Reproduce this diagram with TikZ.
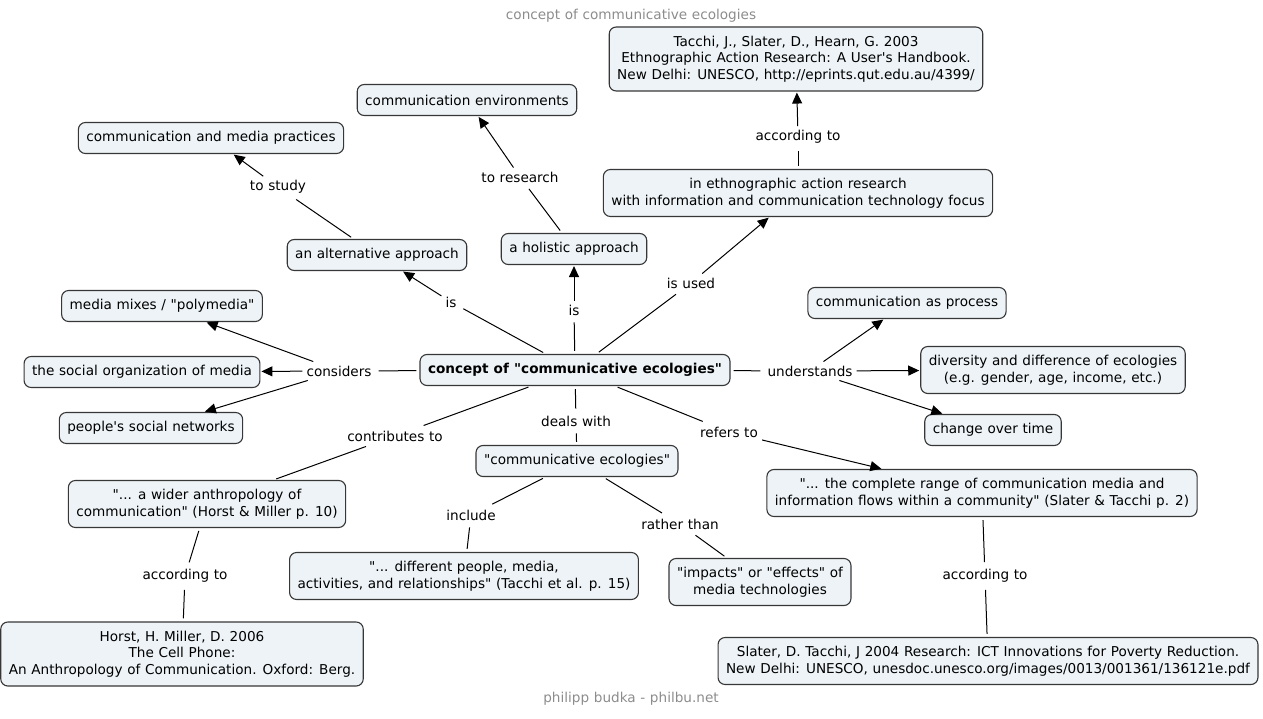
\documentclass[tikz,border=0pt]{standalone}
\usepackage{fontspec}
\setmainfont{DejaVu Sans}[Ligatures=TeXOff, WordSpace=1.08]
\usetikzlibrary{arrows.meta}
\definecolor{boxfill}{RGB}{237,243,246}
\definecolor{boxline}{RGB}{55,55,55}
\definecolor{titlegrey}{RGB}{140,140,140}
\newcommand\fs{\fontsize{13.6}{16.5}\selectfont}
\tikzset{
  cbox/.style={draw=boxline, fill=boxfill, rounded corners=7pt, line width=1.1pt,
    inner xsep=8pt, inner ysep=4pt, align=center, font=\fs, minimum height=31pt},
  two/.style={minimum height=47pt},
  three/.style={minimum height=64pt},
  lbl/.style={inner sep=4pt, font=\fs},
  conn/.style={line width=1pt, black, shorten <=3pt, shorten >=3pt},
  arr/.style={line width=1pt, black, shorten <=0pt, shorten >=1pt, -{Triangle[length=11pt,width=10pt]}},
}
\begin{document}
\begin{tikzpicture}[x=1pt,y=-1pt]
\useasboundingbox (0,0) rectangle (1263,719);
\node[font=\fs, text=titlegrey] (title) at (631,16) {concept of communicative ecologies};
\node[font=\fs, text=titlegrey] (footer) at (631,699) {philipp budka - philbu.net};

% boxes
\node[cbox, three] (tacchi) at (796,59) {Tacchi, J., Slater, D., Hearn, G. 2003\\Ethnographic Action Research: A User's Handbook.\\New Delhi: UNESCO, http://eprints.qut.edu.au/4399/};
\node[cbox] (env) at (467,100) {communication environments};
\node[cbox] (prac) at (211,138) {communication and media practices};
\node[cbox, two] (ethno) at (798,193) {in ethnographic action research\\with information and communication technology focus};
\node[cbox] (alt) at (377,255) {an alternative approach};
\node[cbox] (hol) at (574,249) {a holistic approach};
\node[cbox] (proc) at (907,303) {communication as process};
\node[cbox] (mix) at (162,306) {media mixes / "polymedia"};
\node[cbox, font=\fs\bfseries] (cen) at (575,370) {concept of "communicative ecologies"};
\node[cbox] (org) at (142,372) {the social organization of media};
\node[cbox, two] (div) at (1053,370) {diversity and difference of ecologies\\(e.g. gender, age, income, etc.)};
\node[cbox] (net) at (151,428) {people's social networks};
\node[cbox] (chg) at (993,430) {change over time};
\node[cbox] (ce) at (577,461) {"communicative ecologies"};
\node[cbox, two] (rng) at (982,493) {"... the complete range of communication media and\\information flows within a community" (Slater \& Tacchi p. 2)};
\node[cbox, two] (wid) at (207,504) {"... a wider anthropology of\\communication" (Horst \& Miller p. 10)};
\node[cbox, two] (dif) at (464,576) {"... different people, media,\\activities, and relationships" (Tacchi et al. p. 15)};
\node[cbox, two] (imp) at (760,582) {"impacts" or "effects" of\\media technologies};
\node[cbox, three] (horst) at (182,654) {Horst, H. Miller, D. 2006\\The Cell Phone:\\An Anthropology of Communication. Oxford: Berg.};
\node[cbox, two] (slat) at (988,661) {Slater, D. Tacchi, J 2004 Research: ICT Innovations for Poverty Reduction.\\New Delhi: UNESCO, unesdoc.unesco.org/images/0013/001361/136121e.pdf};

% labels
\node[lbl] (acc1) at (798,137) {according to};
\node[lbl] (study) at (278,187) {to study};
\node[lbl] (res) at (520,177) {to research};
\node[lbl] (used) at (691,283) {is used};
\node[lbl] (is1) at (451,302) {is};
\node[lbl] (is2) at (574,310) {is};
\node[lbl] (cons) at (339,371) {considers};
\node[lbl] (und) at (810,371) {understands};
\node[lbl] (contr) at (395,436) {contributes to};
\node[lbl] (deal) at (576,421) {deals with};
\node[lbl] (ref) at (729,432) {refers to};
\node[lbl] (incl) at (471,515) {include};
\node[lbl] (rath) at (680,524) {rather than};
\node[lbl] (acc2) at (185,576) {according to};
\node[lbl] (acc3) at (985,576) {according to};

% connectors
\draw[conn] (ethno) -- (acc1);
\draw[arr] (acc1) -- (tacchi);
\draw[conn] (alt) -- (study);
\draw[arr] (study) -- (prac);
\draw[conn] (hol) -- (res);
\draw[arr] (res) -- (env);
\draw[conn] (cen) -- (used);
\draw[arr] (used) -- (ethno);
\draw[conn] (cen) -- (is1);
\draw[arr] (is1) -- (alt);
\draw[conn] (cen) -- (is2);
\draw[arr] (is2) -- (hol);
\draw[conn] (cen) -- (cons);
\draw[arr] (cons) -- (mix);
\draw[arr] (cons) -- (org);
\draw[arr] (cons) -- (net);
\draw[conn] (cen) -- (und);
\draw[arr] (und) -- (proc);
\draw[arr] (und) -- (div);
\draw[arr] (und) -- (chg);
\draw[conn] (cen) -- (contr);
\draw[conn] (contr) -- (wid);
\draw[conn] (cen) -- (deal);
\draw[conn] (deal) -- (ce);
\draw[conn] (cen) -- (ref);
\draw[arr] (ref) -- (rng);
\draw[conn] (ce) -- (incl);
\draw[conn] (incl) -- (dif);
\draw[conn] (ce) -- (rath);
\draw[conn] (rath) -- (imp);
\draw[conn] (wid) -- (acc2);
\draw[conn] (acc2) -- (horst);
\draw[conn] (rng) -- (acc3);
\draw[conn] (acc3) -- (slat);
\end{tikzpicture}
\end{document}
